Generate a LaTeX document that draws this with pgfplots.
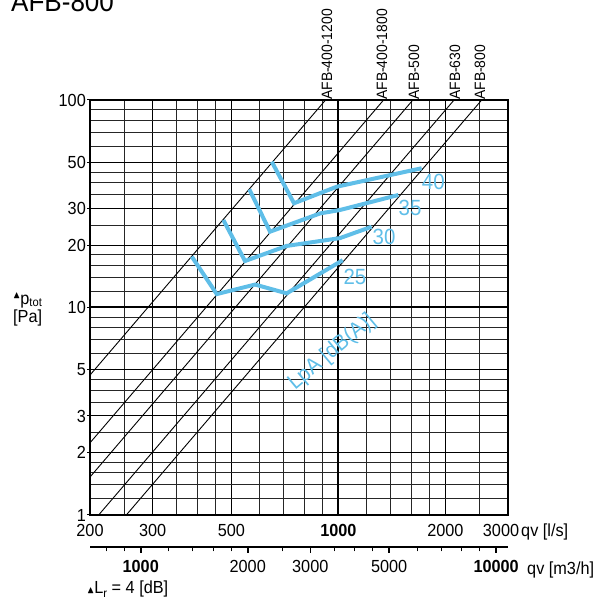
\documentclass[border=0pt]{standalone}
\usepackage{amssymb}
\usepackage{fontspec}
\setmainfont{Liberation Sans}[FakeStretch=0.93]
\usepackage{pgfplots}
\pgfplotsset{compat=1.18}
\definecolor{skyb}{RGB}{95,190,232}
\newcommand\tl{\fontsize{17.5}{18}\selectfont}
\newcommand\bl{\fontsize{22}{22}\selectfont}
\begin{document}
\begin{tikzpicture}[x=1pt,y=1pt]
\useasboundingbox (0,0) rectangle (598,598);
% title, cut at the top like the original
\node[anchor=base west, inner sep=0] at (11,586) {\fontsize{28}{28}\selectfont AFB-800};
\begin{axis}[
  at={(90pt,83pt)}, anchor=south west, scale only axis,
  width=418pt, height=415pt,
  xmode=log, ymode=log,
  xmin=200, xmax=3000, ymin=1, ymax=100,
  xtick={200,300,500,1000,2000,3000},
  xticklabels={200,300,500,\textbf{1000},2000,\hspace*{-14pt}3000},
  minor xtick={250,350,400,450,600,700,800,900,1200,1400,1600,1800,2500},
  ytick={1,2,3,5,10,20,30,50,100},
  yticklabels={1,2,3,5,10,20,30,50,100},
  minor ytick={1.2,1.4,1.6,1.8,2.5,3.5,4,4.5,6,7,8,9,12,14,16,18,25,35,40,45,60,70,80,90},
  grid=both,
  major grid style={black, line width=1pt},
  minor grid style={black!85, line width=0.8pt},
  axis line style={black, line width=1.1pt},
  tick align=outside, major tick length=3pt,
  xtick style={draw=none}, ytick pos=left,
  minor tick length=0pt,
  ytick style={black, line width=1pt},
  ticklabel style={font=\tl},
  xticklabel style={yshift=-3pt},
  yticklabel style={inner sep=1pt},
  clip mode=individual,
]
% heavy grid lines at 1000 l/s and 10 Pa
\addplot[black, line width=2pt, forget plot] coordinates {(1000,1) (1000,100)};
\addplot[black, line width=2pt, forget plot] coordinates {(200,10) (3000,10)};
% system curves
\addplot[black, line width=0.9pt] coordinates {(92,1) (920,100)};
\addplot[black, line width=0.9pt] coordinates {(134,1) (1340,100)};
\addplot[black, line width=0.9pt] coordinates {(162,1) (1620,100)};
\addplot[black, line width=0.9pt] coordinates {(211.5,1) (2115,100)};
\addplot[black, line width=0.9pt] coordinates {(253,1) (2530,100)};
% LpA curves
\addplot[skyb, line width=4pt] coordinates {(386.6,17.6) (454.6,11.6) (582.6,12.9) (715.3,11.7) (1028,16.9)};
\addplot[skyb, line width=4pt] coordinates {(474.5,26.4) (545.9,16.75) (715,19.8) (1010,21.6) (1240,24.5)};
\addplot[skyb, line width=4pt] coordinates {(561.4,37.1) (642.1,23.2) (887.7,28.4) (1010,29.5) (1474,34.85)};
\addplot[skyb, line width=4pt] coordinates {(649.3,50.4) (749.9,31.8) (989,38.2) (1715,46.9)};
\node[skyb, font=\bl] at (axis cs:1849,40.4) {40};
\node[skyb, font=\bl] at (axis cs:1590,30.07) {35};
\node[skyb, font=\bl] at (axis cs:1344,21.8) {30};
\node[skyb, font=\bl] at (axis cs:1113,14.07) {25};
\node[skyb, font=\bl, rotate=40] at (axis cs:959,6.1) {LpA [dB(A)]};
% fan labels
\node[rotate=90, anchor=west, inner sep=0, font=\fontsize{15}{15}\selectfont, yshift=8pt] at (axis cs:978,100) {AFB-400-1200};
\node[rotate=90, anchor=west, inner sep=0, font=\fontsize{15}{15}\selectfont, yshift=8pt] at (axis cs:1397,100) {AFB-400-1800};
\node[rotate=90, anchor=west, inner sep=0, font=\fontsize{15}{15}\selectfont, yshift=8pt] at (axis cs:1719,100) {AFB-500};
\node[rotate=90, anchor=west, inner sep=0, font=\fontsize{15}{15}\selectfont, yshift=8pt] at (axis cs:2241,100) {AFB-630};
\node[rotate=90, anchor=west, inner sep=0, font=\fontsize{15}{15}\selectfont, yshift=8pt] at (axis cs:2636,100) {AFB-800};
\end{axis}
% second flow scale in m3/h
\begin{axis}[
  at={(90pt,51pt)}, anchor=south west, scale only axis,
  width=418pt, height=1pt,
  xmode=log, xmin=720, xmax=10800, ymin=0, ymax=1,
  axis x line*=bottom, axis y line=none,
  xtick={1000,2000,3000,5000,10000},
  xticklabels={\textbf{1000},2000,3000,5000,\textbf{10000}},
  minor xtick={800,900,1200,1400,1600,1800,2500,3500,4000,4500,6000,7000,8000,9000},
  tick align=outside, major tick length=6pt, minor tick length=4.5pt,
  major tick style={black, line width=1.6pt},
  minor tick style={black, line width=1pt},
  axis line style={black, line width=1.2pt},
  ticklabel style={font=\tl},
  xticklabel style={yshift=-4pt},
]
\end{axis}
\node[anchor=base west, inner sep=0, font=\tl] at (521,61.7) {qv [l/s]};
\node[anchor=base west, inner sep=0, font=\tl] at (527,23.7) {qv [m3/h]};
\node[anchor=base west, inner sep=0, font=\tl] at (13,275) {[Pa]};
\node[anchor=base west, inner sep=0, font=\tl] at (13,293)
  {\raisebox{6pt}{\fontsize{10}{10}\selectfont$\blacktriangle$}p\raisebox{-2pt}{\fontsize{12}{12}\selectfont tot}};
\node[anchor=base west, inner sep=0, font=\tl] at (87,4.7)
  {{\fontsize{10}{10}\selectfont$\blacktriangle$}L\raisebox{-4pt}{\fontsize{12}{12}\selectfont r} = 4 [dB]};
\end{tikzpicture}
\end{document}
